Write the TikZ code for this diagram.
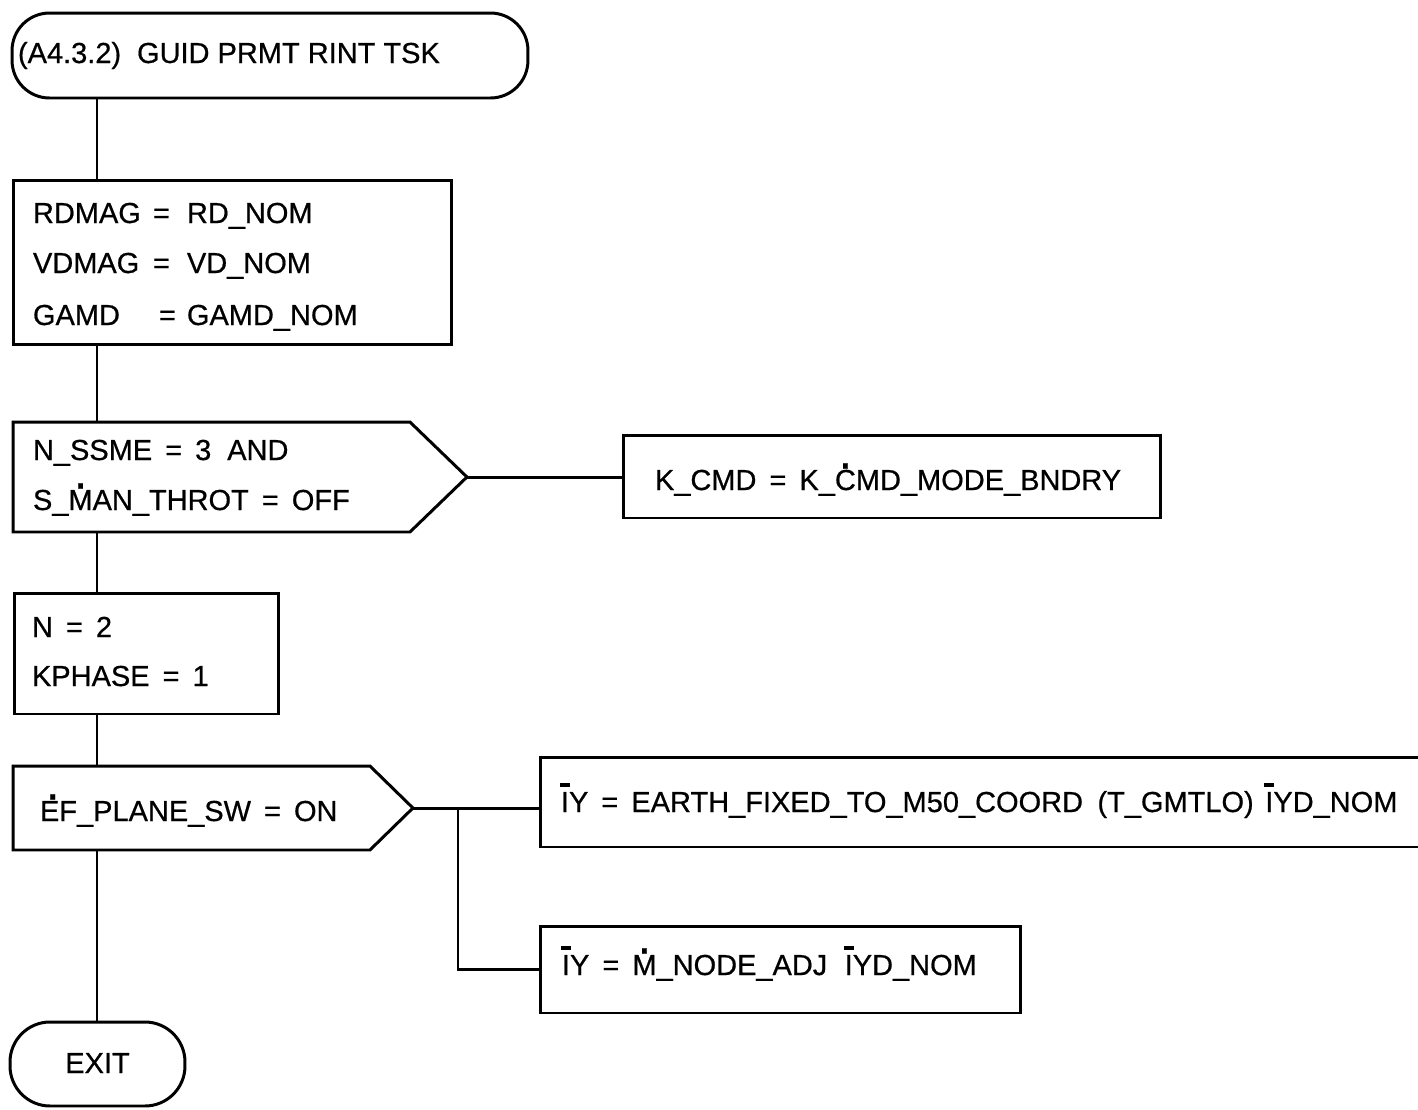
\documentclass[tikz,border=0pt]{standalone}
\usepackage{fontspec}
\setmainfont{Liberation Sans}[FakeBold=0.6]
\usetikzlibrary{calc}
\newcommand\Ibar{\ooalign{\hidewidth\smash{\raisebox{0.88em}{\rule{0.34em}{0.11em}}}\hidewidth\cr I}}
\newcommand\dotc[1]{\ooalign{\hidewidth\smash{\raisebox{0.74em}{\fontsize{27pt}{27pt}\selectfont .}}\hidewidth\cr #1}}
\newcommand\dotr[1]{\ooalign{\hfill\smash{\raisebox{0.74em}{\fontsize{27pt}{27pt}\selectfont .}}\cr #1}}
\newcommand\eq{\hspace{0.45em}=\hspace{0.45em}}
\tikzset{
  shp/.style={draw, rectangle, inner sep=0pt, outer sep=0pt},
  ghost/.style={rectangle, inner sep=0pt, outer sep=0pt},
  txt/.style={anchor=base west, inner sep=0pt, outer sep=0pt, font=\fontsize{16.5pt}{18pt}\selectfont},
  ctxt/.style={anchor=base, inner sep=0pt, outer sep=0pt, font=\fontsize{16.5pt}{18pt}\selectfont},
}
\begin{document}
\begin{tikzpicture}[x=0.02cm, y=-0.02cm, line width=1.7pt, line join=miter]
\useasboundingbox (0,0) rectangle (1418,1110);
\coordinate (mx) at (97,0);

% terminators and boxes
\node[shp, rounded corners=0.75cm, minimum width=10.32cm, minimum height=1.7cm] (start) at (270,55.5) {};
\node[shp, minimum width=8.78cm, minimum height=3.3cm] (box1) at (232.5,262.5) {};
\node[ghost, minimum width=9.08cm, minimum height=2.2cm] (d1) at (240,477) {};
\draw (d1.north west) -- ($(d1.north east)+(-57,0)$) -- (d1.east) -- ($(d1.south east)+(-57,0)$) -- (d1.south west) -- cycle;
\node[shp, minimum width=10.76cm, minimum height=1.66cm] (kcmd) at (892,476.5) {};
\node[shp, minimum width=5.3cm, minimum height=2.42cm] (n2) at (146.5,653.5) {};
\node[ghost, minimum width=8cm, minimum height=1.68cm] (d2) at (213,808) {};
\draw (d2.north west) -- ($(d2.north east)+(-43,0)$) -- (d2.east) -- ($(d2.south east)+(-43,0)$) -- (d2.south west) -- cycle;
\node[shp, minimum width=17.8cm, minimum height=1.8cm] (iy1) at (985,802) {};
\node[shp, minimum width=9.62cm, minimum height=1.74cm] (iy2) at (780.5,969.5) {};
\node[shp, rounded corners=0.8cm, minimum width=3.5cm, minimum height=1.68cm] (exit) at (97.5,1064) {};

% texts
\node[txt] (t0) at (18,63) {(A4.3.2)\hspace{0.55em}GUID PRMT RINT TSK};
\node[txt] (t1) at (33,223) {\makebox[2.4cm][l]{RDMAG}\makebox[0.68cm][l]{=}RD\_NOM};
\node[txt] (t2) at (33,273) {\makebox[2.4cm][l]{VDMAG}\makebox[0.68cm][l]{=}VD\_NOM};
\node[txt] (t3) at (33,325) {\makebox[2.52cm][l]{GAMD}\makebox[0.56cm][l]{=}GAMD\_NOM};
\node[txt] (t4) at (33,460) {N\_SSME\eq 3\hspace{0.55em}AND};
\node[txt] (t5) at (33,510) {S\_\dotc{M}AN\_THROT\eq OFF};
\node[txt] (t6) at (655,490) {K\_CMD\eq K\_\dotc{C}MD\_MODE\_BNDRY};
\node[txt] (t7) at (32,637) {N\eq 2};
\node[txt] (t8) at (32,686) {KPHASE\eq 1};
\node[txt] (t9) at (40,821) {\dotr{E}F\_PLANE\_SW\eq ON};
\node[txt] (t10) at (561,812) {\Ibar Y\eq EARTH\_FIXED\_TO\_M50\_COORD\hspace{0.5em}(T\_GMTLO)\hspace{0.4em}\Ibar YD\_NOM};
\node[txt] (t11) at (562,975) {\Ibar Y\eq \dotc{M}\_NODE\_ADJ\hspace{0.6em}\Ibar YD\_NOM};
\node[ctxt] (t12) at (97.5,1073) {EXIT};

% connectors
\draw (start.south -| mx) -- (box1.north -| mx);
\draw (box1.south -| mx) -- (d1.north -| mx);
\draw (d1.east) -- (kcmd.west |- d1.east);
\draw (d1.south -| mx) -- (n2.north -| mx);
\draw (n2.south -| mx) -- (d2.north -| mx);
\draw (d2.east) -- (iy1.west |- d2.east);
\coordinate (br) at (458,808);
\draw (br) |- (iy2.west);
\draw (d2.south -| mx) -- (exit.north -| mx);
\end{tikzpicture}
\end{document}
